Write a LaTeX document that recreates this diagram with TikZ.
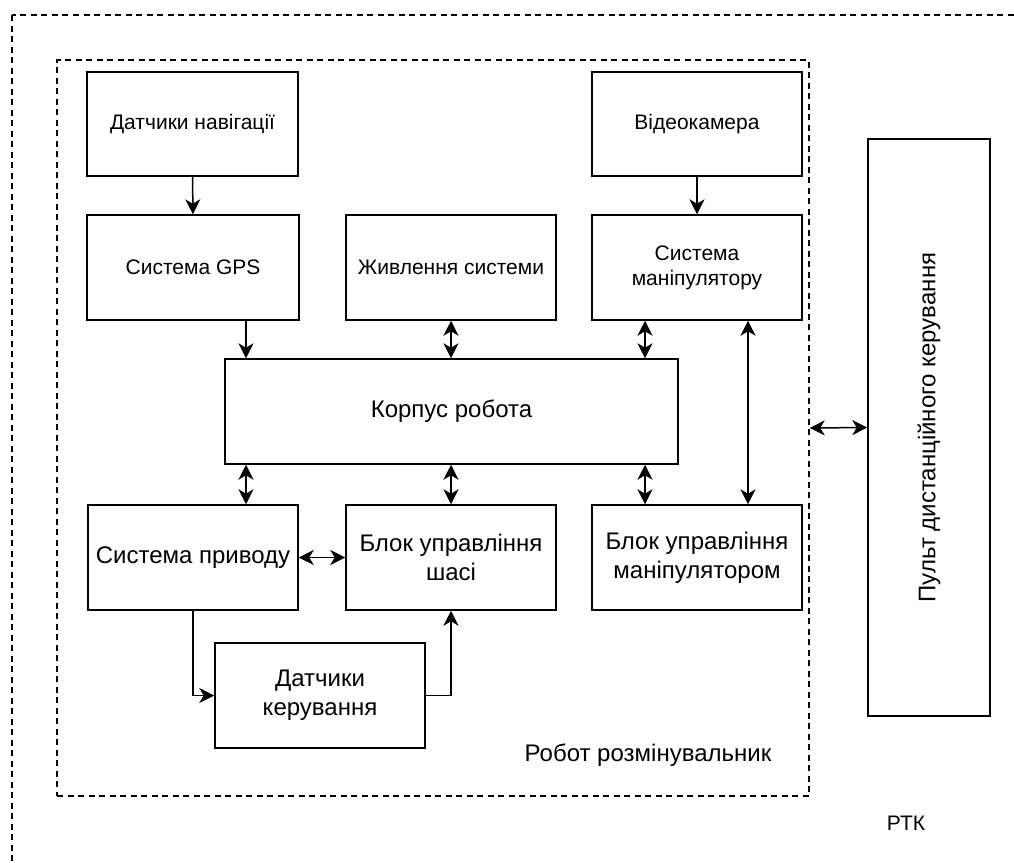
\documentclass[tikz,border=0pt]{standalone}
\usepackage{fontspec}
\setmainfont{Liberation Sans}
\usetikzlibrary{arrows.meta}
\begin{document}
\begin{tikzpicture}[x=1pt,y=-1pt,
  box/.style={draw=black, line width=1.5pt, rectangle, align=center, inner sep=2pt},
  sm/.style={font=\fontsize{21}{25}\selectfont},
  lg/.style={font=\fontsize{24}{29}\selectfont},
  arr/.style={line width=1.5pt, -{Stealth[length=15pt,width=15pt,inset=4.5pt]}},
  darr/.style={line width=1.5pt, {Stealth[length=15pt,width=15pt,inset=4.5pt]}-{Stealth[length=15pt,width=15pt,inset=4.5pt]}},
  dsh/.style={draw=black, line width=1.5pt, dash pattern=on 6pt off 4.5pt}
]
\useasboundingbox (0,0) rectangle (1014,862);
\fill[white] (0,0) rectangle (1014,862);
\begin{scope}
  \clip (0,0) rectangle (1014,862);
  \draw[dsh] (12,15) rectangle (1040,900);
\end{scope}
\node[dsh, rectangle, minimum width=752pt, minimum height=736pt, inner sep=0pt] (robot) at (433,428) {};

\node[box, sm, minimum width=211pt, minimum height=104pt] (nav) at (192.5,124) {Датчики навігації};
\node[box, sm, minimum width=212pt, minimum height=105pt] (gps) at (193,267.5) {Система GPS};
\node[box, sm, minimum width=210pt, minimum height=105pt] (pow) at (451,267.5) {Живлення системи};
\node[box, sm, minimum width=210pt, minimum height=104pt] (cam) at (697,124) {Відеокамера};
\node[box, sm, minimum width=210pt, minimum height=105pt] (man) at (697,267.5) {Система\\маніпулятору};
\node[box, lg, minimum width=453pt, minimum height=105pt] (body) at (451.5,411.5) {Корпус робота};
\node[box, lg, minimum width=210pt, minimum height=105pt] (drive) at (193,557.5) {Система приводу};
\node[box, lg, minimum width=210pt, minimum height=105pt] (chas) at (451,557.5) {Блок управління\\шасі};
\node[box, lg, minimum width=210pt, minimum height=105pt] (bman) at (697,557.5) {Блок управління\\маніпулятором};
\node[box, lg, minimum width=210pt, minimum height=105pt] (sens) at (320,695.5) {Датчики\\керування};
\node[box, minimum width=122pt, minimum height=577pt] (remote) at (929,427.5) {};
\node[lg, rotate=90] (remotetxt) at (remote.center) {Пульт дистанційного керування};

\node[lg] (robotlbl) at (648,755) {Робот розмінувальник};
\node[sm] (rtk) at (906,823) {РТК};

\draw[arr] (nav.south) -- (gps.north);
\draw[arr] ([xshift=53]gps.south) -- ([xshift=53]gps.south |- body.north);
\draw[darr] (pow.south) -- (pow.south |- body.north);
\draw[darr] ([xshift=-52]man.south) -- ([xshift=-52]man.south |- body.north);
\draw[arr] (cam.south) -- (man.north);
\draw[darr] ([xshift=51]man.south) -- ([xshift=51]bman.north);
\draw[darr] ([xshift=53]drive.north) -- ([xshift=53]drive.north |- body.south);
\draw[darr] (chas.north) -- (chas.north |- body.south);
\draw[darr] ([xshift=-52]bman.north) -- ([xshift=-52]bman.north |- body.south);
\draw[darr] (drive.east) -- (chas.west);
\draw[arr] (drive.south) |- (sens.west);
\draw[arr] (sens.east) -| (chas.south);
\draw[darr] (robot.east) -- (remote.west);
\end{tikzpicture}
\end{document}
